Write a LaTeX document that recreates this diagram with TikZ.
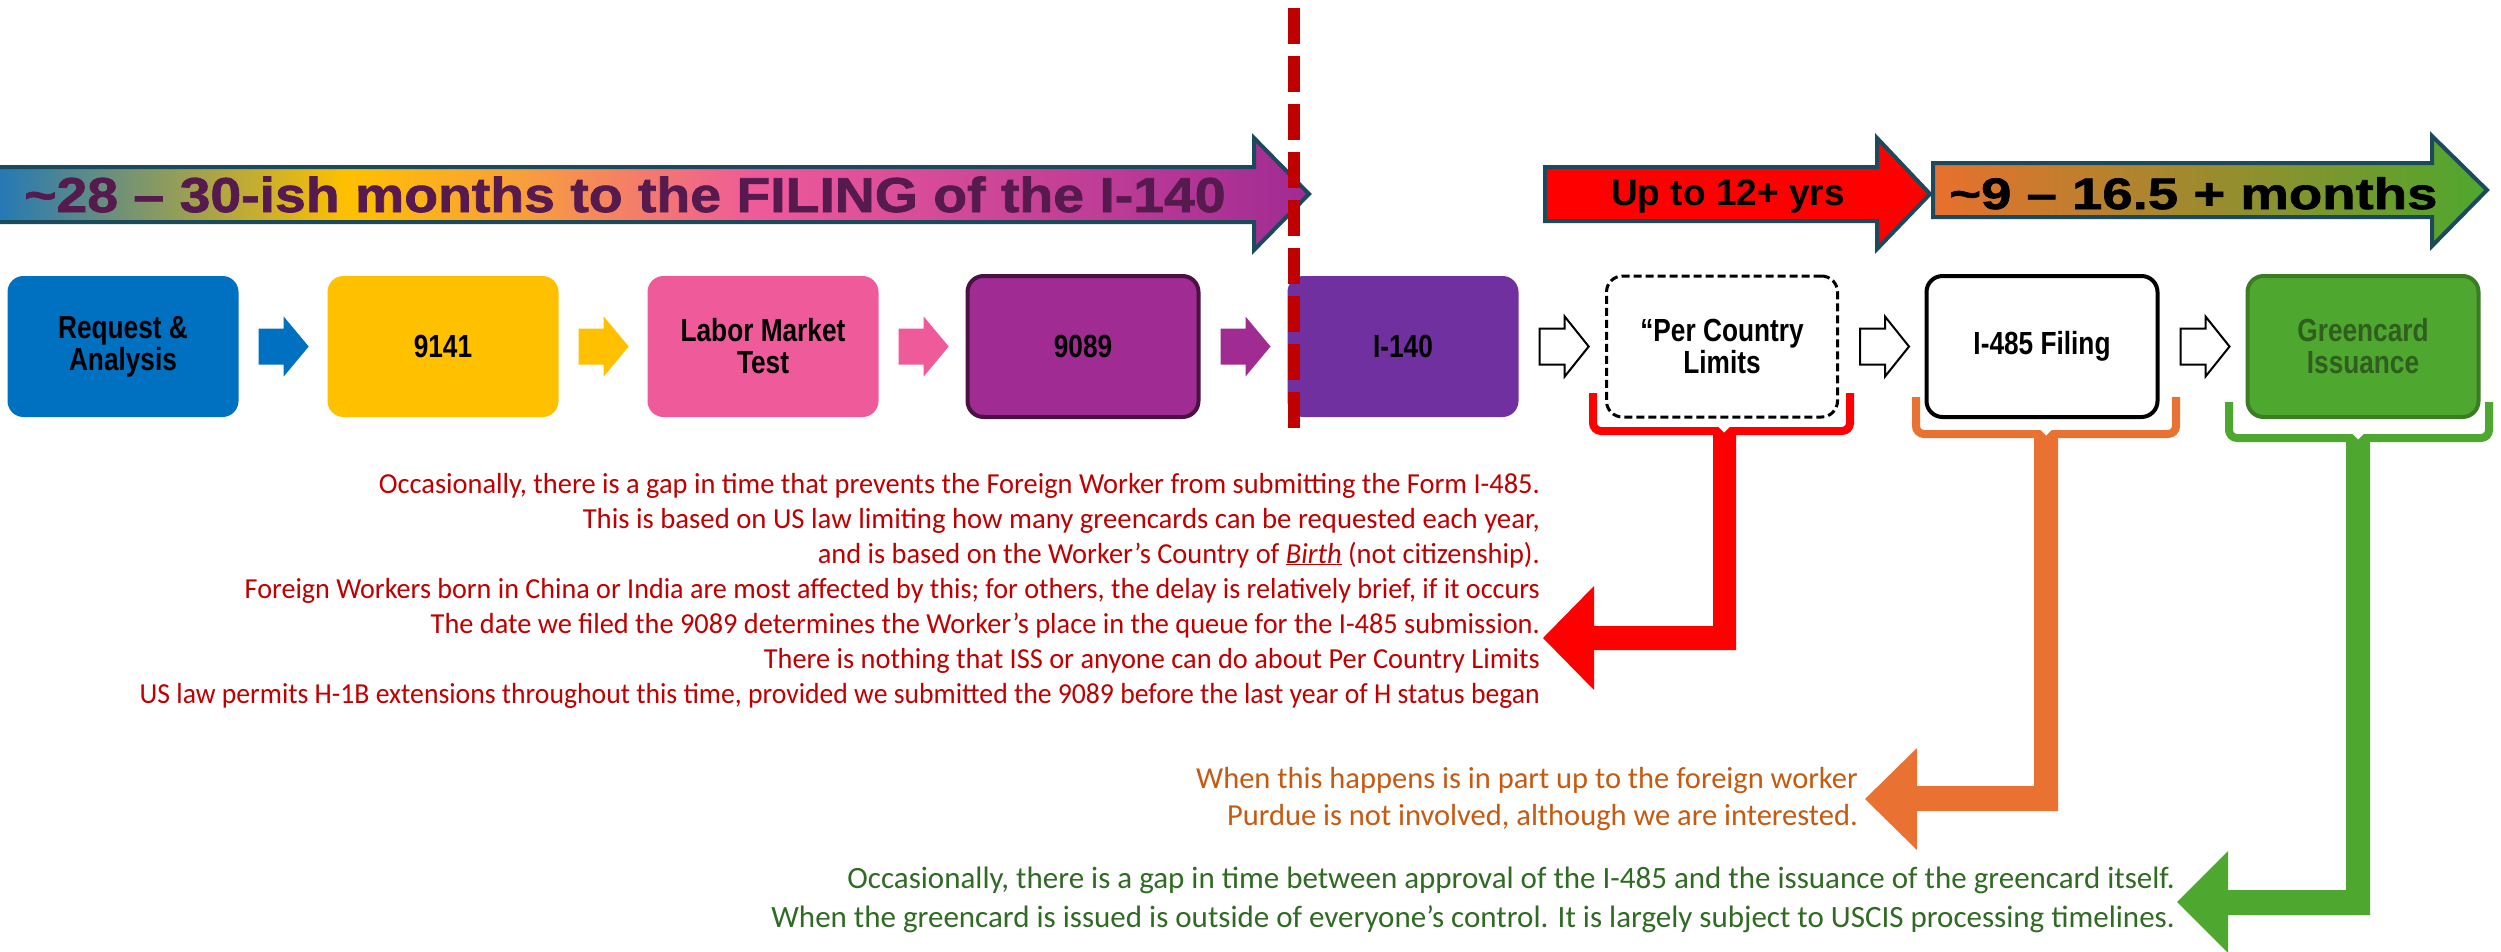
\documentclass[tikz,border=0pt]{standalone}
\usepackage{fontspec}
\usepackage{graphicx}
\setmainfont{Liberation Sans}
\newfontfamily\boxfont[FakeStretch=0.82]{Liberation Sans}
\newfontfamily\notefont{Carlito}
\newfontfamily\bannerfont[FakeStretch=1.13,FakeBold=1.5]{Liberation Sans}
\newfontfamily\greenbanfont[FakeStretch=1.24,FakeBold=1.5]{Liberation Sans}
\usetikzlibrary{calc}
\newcommand{\fitline}[2]{\resizebox{#1pt}{\height}{#2}}

\definecolor{cBlue}{HTML}{0070C0}
\definecolor{cYellow}{HTML}{FFC000}
\definecolor{cPink}{HTML}{EF5A9A}
\definecolor{cMagenta}{HTML}{A02B93}
\definecolor{cMagentaDark}{HTML}{4A1242}
\definecolor{cPurple}{HTML}{7030A0}
\definecolor{cGreen}{HTML}{4EA72E}
\definecolor{cGreenDark}{HTML}{3B7D23}
\definecolor{cGreenText}{HTML}{2F5E1E}
\definecolor{cRedDash}{HTML}{C00000}
\definecolor{cRed}{HTML}{FF0000}
\definecolor{cOrange}{HTML}{E97132}
\definecolor{cOrangeText}{HTML}{C55A11}
\definecolor{cNoteGreen}{HTML}{2F6B22}
\definecolor{cRedText}{HTML}{C00000}
\definecolor{cBannerText}{HTML}{561A4E}
\definecolor{cOutline}{HTML}{1B4A5C}
\definecolor{shA0}{HTML}{1F77BA}
\definecolor{shA2}{HTML}{F8A03A}
\definecolor{shA5}{HTML}{A02B93}
\definecolor{shB0}{HTML}{E8702E}
\definecolor{shB1}{HTML}{4EA72E}

\pgfdeclarehorizontalshading{bannerA}{100bp}{color(0bp)=(shA0); color(25bp)=(shA0); color(38.5bp)=(cYellow); color(45bp)=(shA2); color(54bp)=(cPink); color(75bp)=(shA5); color(100bp)=(shA5)}
\pgfdeclarehorizontalshading{bannerB}{100bp}{color(0bp)=(shB0); color(25bp)=(shB0); color(75bp)=(shB1); color(100bp)=(shB1)}

\begin{document}
\begin{tikzpicture}[x=1pt,y=-1pt,
  stepbox/.style={rectangle, rounded corners=16pt, minimum width=231pt, minimum height=141pt,
    inner sep=0pt, align=center, text=black, font={\boxfont\bfseries\fontsize{32pt}{32pt}\selectfont}},
  note/.style={anchor=base east, inner sep=0pt},
  rednote/.style={note, text=cRedText, font={\notefont\fontsize{29pt}{35pt}\selectfont}},
  orangenote/.style={note, text=cOrangeText, font={\notefont\fontsize{30.5pt}{37pt}\selectfont}},
  greennote/.style={note, text=cNoteGreen, font={\notefont\fontsize{31pt}{37pt}\selectfont}},
  outline/.style={draw=cOutline, line width=4pt, line join=miter},
  bracketline/.style={line width=8pt, rounded corners=8pt}
]
\useasboundingbox (0,0) rectangle (2501,951);
\fill[white] (0,0) rectangle (2501,951);

% ---- banners ----
\shadedraw[shading=bannerA, outline] (-10,167) -- (1254,167) -- (1254,138) -- (1309,194) -- (1254,250) -- (1254,222) -- (-10,222) -- cycle;
\node[anchor=base west, inner sep=0pt, text=cBannerText, font={\bannerfont\bfseries\fontsize{49pt}{49pt}\selectfont}] (t28) at (24,212) {\textasciitilde 28 – 30-ish months to the FILING of the I-140};

\filldraw[fill=cRed, outline] (1545,167) -- (1877,167) -- (1877,138) -- (1930,194) -- (1877,249) -- (1877,221) -- (1545,221) -- cycle;
\node[anchor=base west, inner sep=0pt, text=black, font={\bfseries\fontsize{37pt}{37pt}\selectfont}] (t12) at (1611,205) {Up to 12+ yrs};

\shadedraw[shading=bannerB, outline] (1933,163) -- (2432,163) -- (2432,136) -- (2487,190) -- (2432,246) -- (2432,217) -- (1933,217) -- cycle;
\node[anchor=base west, inner sep=0pt, text=black, font={\greenbanfont\bfseries\fontsize{44pt}{44pt}\selectfont}] (t9) at (1949,209) {\textasciitilde 9 – 16.5 + months};

% ---- step boxes ----
\node[stepbox, fill=cBlue] (b1) at (123,346.5) {Request \&\\Analysis};
\node[stepbox, fill=cYellow] (b2) at (443,346.5) {9141};
\node[stepbox, fill=cPink] (b3) at (763,346.5) {Labor Market\\Test};
\node[stepbox, fill=cMagenta, draw=cMagentaDark, line width=4pt] (b4) at (1083,346.5) {9089};
\node[stepbox, fill=cPurple] (b5) at (1403,346.5) {I-140};
\node[stepbox, fill=white, draw=black, line width=3pt, dash pattern=on 8pt off 4pt] (b6) at (1722,346.5) {“Per Country\\Limits};
\node[stepbox, fill=white, draw=black, line width=4pt] (b7) at (2042,346.5) {I-485 Filing};
\node[stepbox, fill=cGreen, draw=cGreenDark, line width=4pt, text=cGreenText] (b8) at (2363,346.5) {Greencard\\Issuance};

% ---- small arrows ----
\foreach \a/\c in {b1/cBlue, b2/cYellow, b3/cPink, b4/cMagenta} {
  \fill[\c] ([xshift=20pt]\a.east) ++(0,-18) -- ++(25,0) -- ++(0,-12) -- ++(25,30) -- ++(-25,30) -- ++(0,-12) -- ++(-25,0) -- cycle;
}
\foreach \a in {b5, b6, b7} {
  \filldraw[fill=white, draw=black, line width=2pt, line join=miter] ([xshift=21pt]\a.east) ++(0,-18) -- ++(25,0) -- ++(0,-12) -- ++(24,30) -- ++(-24,30) -- ++(0,-12) -- ++(-25,0) -- cycle;
}

% ---- brackets ----
\coordinate (rtip) at (1724,431);
\coordinate (otip) at (2046,434);
\coordinate (gtip) at (2358,438);
\draw[cRed, bracketline] (1593,393) -- (1593,431) -- (1850,431) -- (1850,393);
\draw[cOrange, bracketline] (1916,397) -- (1916,434) -- (2176,434) -- (2176,397);
\draw[cGreen, bracketline] (2229,402) -- (2229,438) -- (2489,438) -- (2489,402);

% ---- thick elbow arrows ----
\fill[cRed] (rtip) ++(12,0) -- (1736,650) -- (1594,650) -- (1594,690) -- (1543,638) -- (1594,586) -- (1594,626) -- (1713,626) -- (1713,431) -- cycle;
\fill[cOrange] (otip) ++(12,0) -- (2058,811) -- (1917,811) -- (1917,850) -- (1865,799) -- (1917,748) -- (1917,786) -- (2034,786) -- (2034,434) -- cycle;
\fill[cGreen] (gtip) ++(12,0) -- (2370,915) -- (2228,915) -- (2228,953) -- (2177,902) -- (2228,851) -- (2228,890) -- (2346,890) -- (2346,438) -- cycle;
\foreach \t in {rtip, otip, gtip} {
  \fill[white] (\t) ++(-6,-4.5) -- ++(12,0) -- ++(-6,6) -- cycle;
}

% ---- dashed divider ----
\coordinate (dtop) at (1294,8);
\coordinate (dbot) at (1294,428);
\draw[cRedDash, line width=12pt, dash pattern=on 36pt off 12pt] (dtop) -- (dbot);

% ---- notes ----
\node[rednote] (r1) at (1540,493) {\fitline{1161}{Occasionally, there is a gap in time that prevents the Foreign Worker from submitting the Form I-485.}};
\node[rednote] (r2) at (1540,528) {\fitline{957}{This is based on US law limiting how many greencards can be requested each year,}};
\node[rednote] (r3) at (1540,563) {\fitline{722}{and is based on the Worker’s Country of \underline{\textit{Birth}} (not citizenship).}};
\node[rednote] (r4) at (1540,598) {\fitline{1295}{Foreign Workers born in China or India are most affected by this; for others, the delay is relatively brief, if it occurs}};
\node[rednote] (r5) at (1540,633) {\fitline{1109}{The date we filed the 9089 determines the Worker’s place in the queue for the I-485 submission.}};
\node[rednote] (r6) at (1540,668) {\fitline{776}{There is nothing that ISS or anyone can do about Per Country Limits}};
\node[rednote] (r7) at (1540,703) {\fitline{1400}{US law permits H-1B extensions throughout this time, provided we submitted the 9089 before the last year of H status began}};

\node[orangenote] (o1) at (1858,788) {When this happens is in part up to the foreign worker};
\node[orangenote] (o2) at (1858,825) {Purdue is not involved, although we are interested.};

\node[greennote] (g1) at (2175,888) {Occasionally, there is a gap in time between approval of the I-485 and the issuance of the greencard itself.};
\node[greennote] (g2) at (2175,927) {When the greencard is issued is outside of everyone’s control. It is largely subject to USCIS processing timelines.};
\end{tikzpicture}
\end{document}
